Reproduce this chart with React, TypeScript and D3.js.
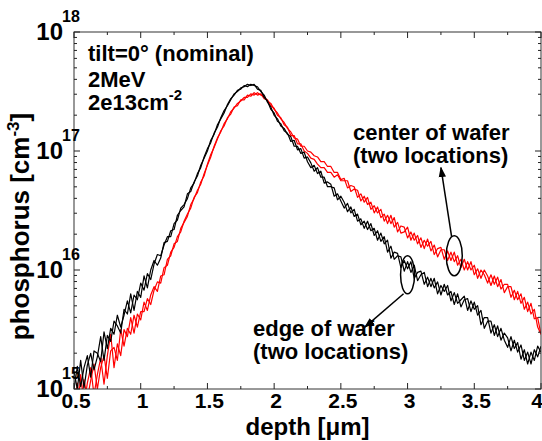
import React from "react";
import * as d3 from "d3";

// depth grid (µm)
const depth = [
  0.5, 0.525, 0.55, 0.575, 0.6, 0.625, 0.65, 0.675, 0.7, 0.725, 0.75, 0.775, 0.8, 0.825, 0.85, 0.875, 0.9, 0.925, 0.95, 0.975,
  1.0, 1.025, 1.05, 1.075, 1.1, 1.125, 1.15, 1.175, 1.2, 1.225, 1.25, 1.275, 1.3, 1.325, 1.35, 1.375, 1.4, 1.425, 1.45, 1.475,
  1.5, 1.525, 1.55, 1.575, 1.6, 1.625, 1.65, 1.675, 1.7, 1.725, 1.75, 1.775, 1.8, 1.825, 1.85, 1.875, 1.9, 1.925, 1.95, 1.975,
  2.0, 2.025, 2.05, 2.075, 2.1, 2.125, 2.15, 2.175, 2.2, 2.225, 2.25, 2.275, 2.3, 2.325, 2.35, 2.375, 2.4, 2.425, 2.45, 2.475,
  2.5, 2.525, 2.55, 2.575, 2.6, 2.625, 2.65, 2.675, 2.7, 2.725, 2.75, 2.775, 2.8, 2.825, 2.85, 2.875, 2.9, 2.925, 2.95, 2.975,
  3.0, 3.025, 3.05, 3.075, 3.1, 3.125, 3.15, 3.175, 3.2, 3.225, 3.25, 3.275, 3.3, 3.325, 3.35, 3.375, 3.4, 3.425, 3.45, 3.475,
  3.5, 3.525, 3.55, 3.575, 3.6, 3.625, 3.65, 3.675, 3.7, 3.725, 3.75, 3.775, 3.8, 3.825, 3.85, 3.875, 3.9, 3.925, 3.95, 3.975,
  4.0,
];

// log10 of phosphorus concentration [cm^-3], edge of wafer (two locations)
const edgeA = [
  15.15, 15.0, 15.24, 15.01, 15.2, 15.3, 15.16, 15.27, 15.44, 15.24, 15.45, 15.4, 15.57, 15.53, 15.47, 15.67, 15.63, 15.8, 15.66, 15.82,
  15.77, 15.95, 15.85, 16.0, 16.08, 16.04, 16.1, 16.23, 16.24, 16.33, 16.34, 16.46, 16.5, 16.53, 16.64, 16.66, 16.74, 16.79, 16.88, 16.94,
  17.0, 17.09, 17.14, 17.22, 17.27, 17.32, 17.39, 17.44, 17.47, 17.51, 17.52, 17.55, 17.54, 17.56, 17.55, 17.54, 17.5, 17.47, 17.41, 17.37,
  17.3, 17.27, 17.21, 17.19, 17.14, 17.12, 17.04, 17.04, 16.98, 16.99, 16.91, 16.86, 16.88, 16.81, 16.83, 16.73, 16.74, 16.72, 16.62, 16.64,
  16.58, 16.52, 16.56, 16.48, 16.51, 16.41, 16.43, 16.35, 16.41, 16.33, 16.35, 16.25, 16.31, 16.22, 16.25, 16.1, 16.15, 16.14, 16.02, 16.08,
  16.01, 16.07, 15.93, 15.98, 15.99, 15.88, 15.94, 15.86, 15.93, 15.8, 15.87, 15.82, 15.87, 15.74, 15.81, 15.72, 15.75, 15.78, 15.66, 15.74,
  15.67, 15.7, 15.54, 15.6, 15.6, 15.47, 15.54, 15.44, 15.51, 15.41, 15.35, 15.44, 15.34, 15.39, 15.25, 15.33, 15.21, 15.31, 15.24, 15.36,
  15.31,
];
const edgeB = [
  15.0, 15.19, 15.02, 15.18, 15.28, 15.1, 15.32, 15.3, 15.23, 15.48, 15.34, 15.51, 15.46, 15.62, 15.52, 15.62, 15.74, 15.64, 15.79, 15.75,
  15.89, 15.83, 15.97, 15.92, 16.05, 16.13, 16.12, 16.21, 16.28, 16.28, 16.39, 16.42, 16.52, 16.55, 16.6, 16.69, 16.73, 16.81, 16.86, 16.95,
  17.02, 17.07, 17.15, 17.2, 17.28, 17.34, 17.38, 17.43, 17.48, 17.5, 17.53, 17.54, 17.56, 17.55, 17.56, 17.52, 17.51, 17.45, 17.42, 17.35,
  17.32, 17.25, 17.23, 17.17, 17.15, 17.08, 17.09, 17.01, 17.02, 16.94, 16.95, 16.9, 16.83, 16.86, 16.78, 16.78, 16.7, 16.7, 16.69, 16.59,
  16.62, 16.57, 16.49, 16.53, 16.45, 16.47, 16.38, 16.41, 16.34, 16.39, 16.29, 16.33, 16.24, 16.28, 16.15, 16.2, 16.09, 16.12, 16.11, 15.99,
  16.07, 15.98, 16.04, 15.91, 15.96, 15.98, 15.86, 15.93, 15.85, 15.9, 15.79, 15.88, 15.79, 15.82, 15.71, 15.8, 15.69, 15.75, 15.76, 15.65,
  15.73, 15.62, 15.66, 15.51, 15.57, 15.57, 15.45, 15.53, 15.41, 15.47, 15.43, 15.32, 15.41, 15.31, 15.37, 15.24, 15.31, 15.21, 15.33, 15.27,
  15.36,
];

// log10 of phosphorus concentration [cm^-3], center of wafer (two locations)
const centerA = [
  14.93, 14.78, 15.12, 14.86, 15.05, 15.18, 14.95, 15.12, 15.26, 15.04, 15.28, 15.46, 15.18, 15.38, 15.28, 15.5, 15.44, 15.6, 15.47, 15.63,
  15.58, 15.73, 15.66, 15.79, 15.86, 15.82, 15.95, 15.96, 16.09, 16.12, 16.22, 16.24, 16.35, 16.4, 16.45, 16.55, 16.6, 16.67, 16.72, 16.81,
  16.88, 16.95, 17.04, 17.11, 17.16, 17.23, 17.27, 17.33, 17.36, 17.4, 17.42, 17.45, 17.45, 17.48, 17.47, 17.49, 17.47, 17.46, 17.42, 17.4,
  17.35, 17.32, 17.27, 17.24, 17.19, 17.16, 17.11, 17.1, 17.04, 17.04, 17.0, 16.99, 16.96, 16.95, 16.91, 16.91, 16.87, 16.87, 16.82, 16.82,
  16.76, 16.77, 16.69, 16.71, 16.7, 16.61, 16.64, 16.57, 16.61, 16.51, 16.54, 16.48, 16.51, 16.41, 16.46, 16.39, 16.44, 16.32, 16.37, 16.36,
  16.27, 16.32, 16.25, 16.29, 16.19, 16.25, 16.2, 16.24, 16.13, 16.18, 16.19, 16.09, 16.16, 16.08, 16.15, 16.04, 16.09, 16.0, 16.07, 16.0,
  16.04, 15.93, 16.0, 15.96, 15.89, 15.96, 15.88, 15.94, 15.84, 15.88, 15.88, 15.77, 15.83, 15.75, 15.8, 15.67, 15.73, 15.63, 15.67, 15.52,
  15.46,
];
const centerB = [
  14.8, 15.05, 14.84, 15.08, 14.92, 15.07, 15.21, 15.0, 15.18, 15.28, 15.09, 15.32, 15.35, 15.24, 15.5, 15.36, 15.51, 15.46, 15.62, 15.52,
  15.65, 15.65, 15.76, 15.71, 15.83, 15.9, 15.89, 16.02, 16.04, 16.15, 16.19, 16.28, 16.32, 16.41, 16.47, 16.52, 16.61, 16.65, 16.74, 16.79,
  16.89, 16.97, 17.03, 17.1, 17.17, 17.21, 17.28, 17.31, 17.37, 17.38, 17.43, 17.43, 17.47, 17.46, 17.49, 17.47, 17.48, 17.44, 17.43, 17.38,
  17.36, 17.3, 17.28, 17.22, 17.2, 17.13, 17.13, 17.06, 17.06, 17.0, 16.98, 16.94, 16.93, 16.89, 16.86, 16.86, 16.82, 16.82, 16.78, 16.8,
  16.75, 16.75, 16.75, 16.66, 16.68, 16.67, 16.58, 16.62, 16.55, 16.57, 16.48, 16.53, 16.44, 16.47, 16.39, 16.46, 16.36, 16.4, 16.31, 16.32,
  16.36, 16.25, 16.31, 16.22, 16.27, 16.18, 16.26, 16.16, 16.21, 16.11, 16.17, 16.17, 16.08, 16.15, 16.07, 16.12, 16.02, 16.09, 16.0, 16.07,
  15.96, 16.01, 15.93, 16.0, 15.95, 15.87, 15.95, 15.86, 15.92, 15.81, 15.86, 15.86, 15.75, 15.82, 15.72, 15.77, 15.65, 15.72, 15.59, 15.6,
  15.46,
];

const xTicks = [0.5, 1, 1.5, 2, 2.5, 3, 3.5, 4];
const xMinorTicks = [0.75, 1.25, 1.75, 2.25, 2.75, 3.25, 3.75];
const yDecades = [15, 16, 17, 18];

const W = 542;
const H = 441;
const M = { left: 74, right: 541, top: 32, bottom: 389 };
const FONT = "'Liberation Sans', Arial, Helvetica, sans-serif";

export default function App() {
  const x = d3.scaleLinear().domain([0.5, 4]).range([M.left, M.right]);
  const y = d3.scaleLog().domain([1e15, 1e18]).range([M.bottom, M.top]);

  const line = (vals: number[]) =>
    d3
      .line<number>()
      .x((_, i) => x(depth[i]))
      .y((v) => y(Math.pow(10, v)))(vals) || "";

  const yMinor: number[] = [];
  for (let e = 15; e < 18; e++) {
    for (let k = 2; k <= 9; k++) yMinor.push(k * Math.pow(10, e));
  }

  const majorLen = 6;
  const minorLen = 3;
  const tickColor = "#222";

  return (
    <svg
      width={W}
      height={H}
      style={{ position: "absolute", left: 0, top: 0, background: "#fff" }}
      fontFamily={FONT}
      fontWeight="bold"
    >
      <defs>
        <clipPath id="plotClip">
          <rect x={M.left} y={M.top} width={M.right - M.left} height={M.bottom - M.top} />
        </clipPath>
        <marker id="arrowHead" viewBox="0 0 10 10" refX="9" refY="5" markerWidth="7" markerHeight="7" orient="auto">
          <path d="M0,1.5 L10,5 L0,8.5 z" fill="#000" />
        </marker>
      </defs>

      <g clipPath="url(#plotClip)" fill="none" strokeWidth={1.2} strokeLinejoin="round">
        <path d={line(centerA)} stroke="#ff0000" />
        <path d={line(centerB)} stroke="#ff0000" />
        <path d={line(edgeA)} stroke="#000" />
        <path d={line(edgeB)} stroke="#000" />
      </g>

      {/* axes box */}
      <rect
        x={M.left}
        y={M.top}
        width={M.right - M.left}
        height={M.bottom - M.top}
        fill="none"
        stroke="#333"
        strokeWidth={1}
      />

      {/* x ticks */}
      {xTicks.map((t) => (
        <g key={"xt" + t} stroke={tickColor}>
          <line x1={x(t)} x2={x(t)} y1={M.bottom} y2={M.bottom - majorLen} />
          <line x1={x(t)} x2={x(t)} y1={M.top} y2={M.top + majorLen} />
        </g>
      ))}
      {xMinorTicks.map((t) => (
        <g key={"xm" + t} stroke={tickColor}>
          <line x1={x(t)} x2={x(t)} y1={M.bottom} y2={M.bottom - minorLen} />
          <line x1={x(t)} x2={x(t)} y1={M.top} y2={M.top + minorLen} />
        </g>
      ))}
      {xTicks.map((t) => (
        <text
          key={"xl" + t}
          x={t === 4 ? x(t) - 4 : x(t) + 2}
          y={408}
          fontSize={21}
          textAnchor="middle"
          fill="#000"
        >
          {String(t)}
        </text>
      ))}

      {/* y ticks */}
      {yDecades.map((e) => (
        <g key={"yt" + e} stroke={tickColor}>
          <line x1={M.left} x2={M.left + majorLen} y1={y(Math.pow(10, e))} y2={y(Math.pow(10, e))} />
          <line x1={M.right} x2={M.right - majorLen} y1={y(Math.pow(10, e))} y2={y(Math.pow(10, e))} />
        </g>
      ))}
      {yMinor.map((v, i) => (
        <g key={"ym" + i} stroke={tickColor}>
          <line x1={M.left} x2={M.left + minorLen} y1={y(v)} y2={y(v)} />
          <line x1={M.right} x2={M.right - minorLen} y1={y(v)} y2={y(v)} />
        </g>
      ))}
      {yDecades.map((e) => {
        const yy = y(Math.pow(10, e));
        return (
          <g key={"yl" + e} fill="#000">
            <text x={63} y={yy + 8} fontSize={24} textAnchor="end">
              10
            </text>
            <text x={62} y={yy - 10} fontSize={16} textAnchor="start">
              {String(e)}
            </text>
          </g>
        );
      })}

      {/* axis labels */}
      <text x={(M.left + M.right) / 2} y={435} fontSize={24} textAnchor="middle" fill="#000">
        depth [μm]
      </text>
      <text
        transform={`translate(29,${(M.top + M.bottom) / 2 + 16}) rotate(-90)`}
        fontSize={26}
        textAnchor="middle"
        fill="#000"
      >
        phosphorus [cm
        <tspan fontSize={17} dy={-10}>
          -3
        </tspan>
        <tspan dy={10}>]</tspan>
      </text>

      {/* annotations */}
      <g fontSize={22} fill="#000">
        <text x={88} y={61}>tilt=0° (nominal)</text>
        <text x={88} y={87}>2MeV</text>
        <text x={88} y={110}>
          2e13cm
          <tspan fontSize={15} dy={-10}>
            -2
          </tspan>
        </text>
        <text x={353} y={140}>center of wafer</text>
        <text x={353} y={163}>(two locations)</text>
        <text x={253} y={336}>edge of wafer</text>
        <text x={253} y={359}>(two locations)</text>
      </g>

      <g fill="none" stroke="#000" strokeWidth={1.5}>
        <ellipse cx={x(3.35)} cy={y(Math.pow(10, 16.12))} rx={8} ry={20} />
        <ellipse cx={x(3.0)} cy={y(Math.pow(10, 15.96))} rx={7} ry={19} />
        <line
          x1={x(3.33)}
          y1={y(Math.pow(10, 16.28))}
          x2={x(3.25)}
          y2={y(Math.pow(10, 16.86))}
          markerEnd="url(#arrowHead)"
        />
        <line
          x1={x(2.97)}
          y1={y(Math.pow(10, 15.8))}
          x2={x(2.68)}
          y2={y(Math.pow(10, 15.52))}
          markerEnd="url(#arrowHead)"
        />
      </g>
    </svg>
  );
}
